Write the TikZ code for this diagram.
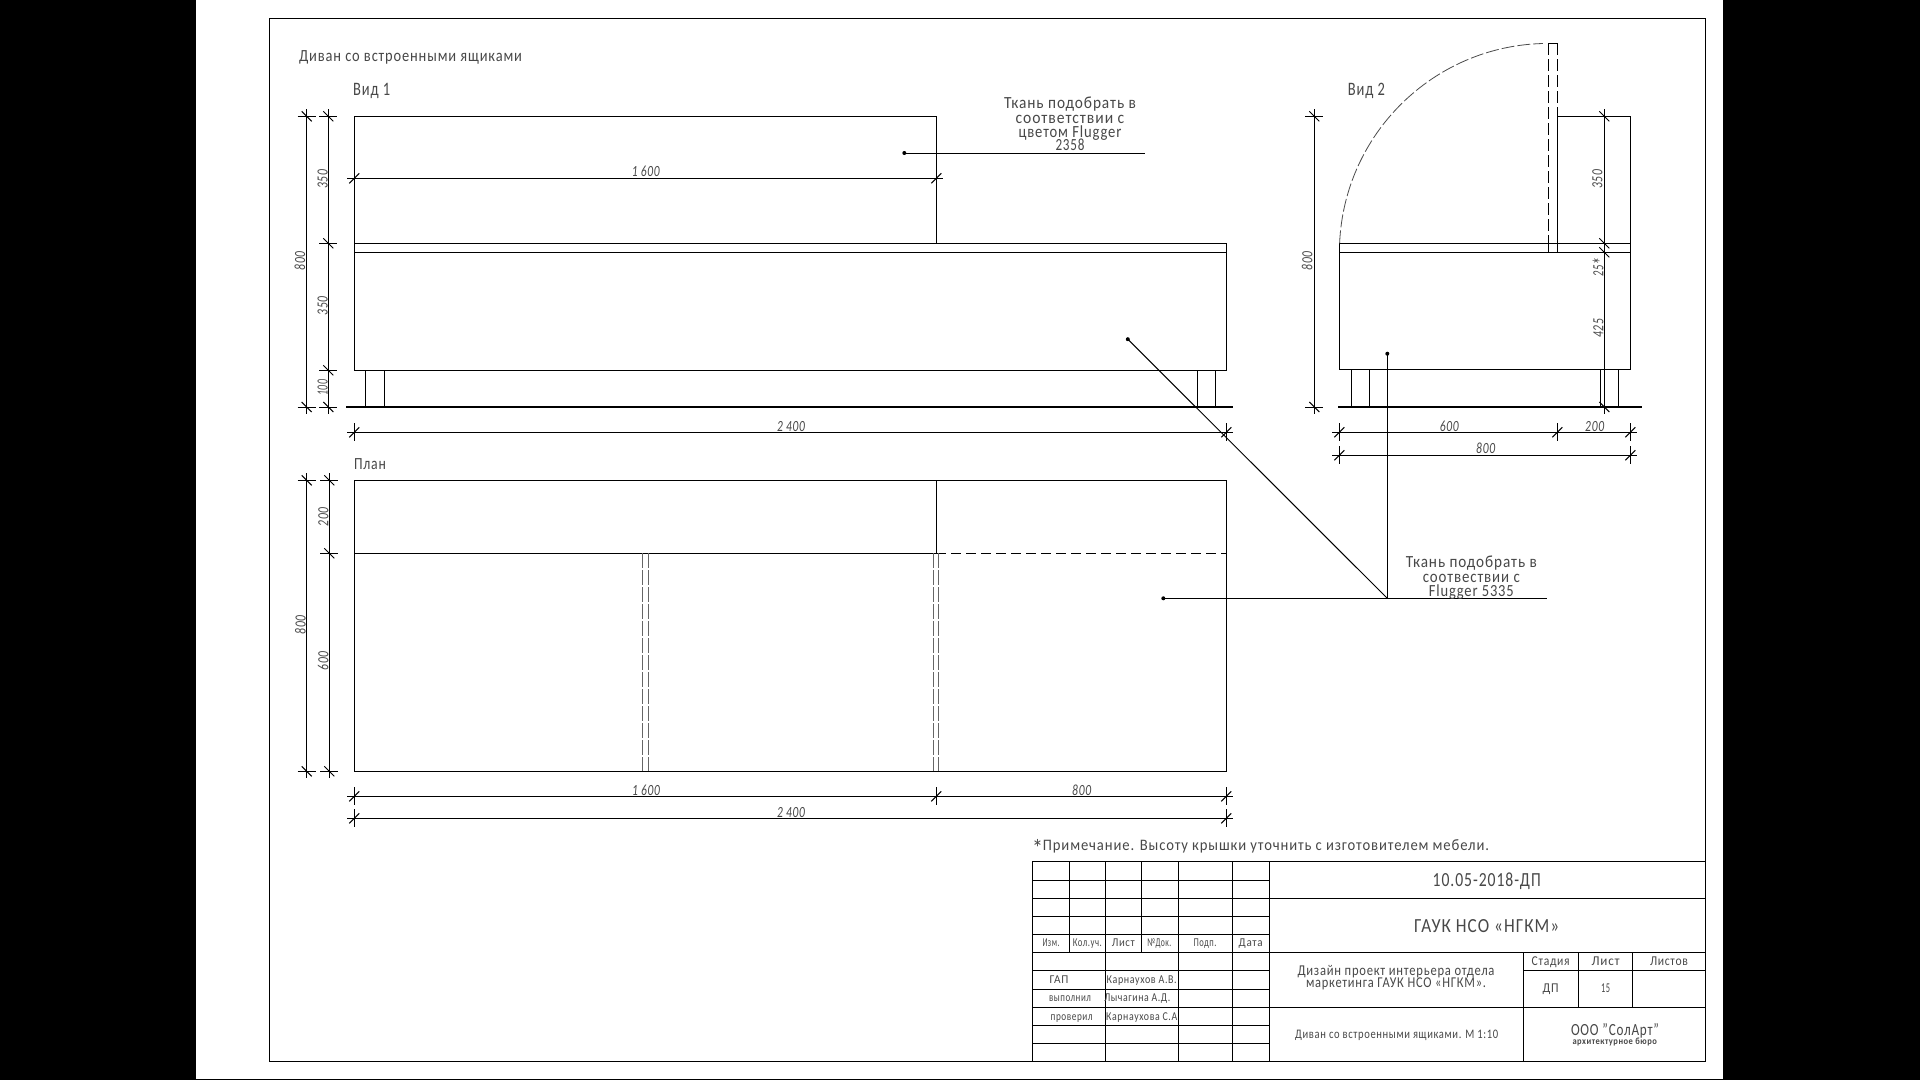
\documentclass[tikz,border=0pt]{standalone}
\usepackage{fontspec}
\usepackage{graphicx}
\usepackage{xfp}
\setmainfont[LetterSpace=6]{Carlito}
\newlength\fitlen
\newcounter{lblno}
\newcommand\fitw[2]{\settowidth\fitlen{#2}\scalebox{\fpeval{#1/\fitlen}}[1]{#2}}
\newcommand\midstar{\raisebox{-.38em}{\scalebox{1.5}{*}}}
% \lbl[opts]{x}{y}{font size}{width}{text}
\newcommand\lbl[6][]{\stepcounter{lblno}\node[lbltext,#1,font=\fontsize{#4pt}{#4pt}\selectfont,text height=\fpeval{0.644*#4}pt] (t\thelblno) at (#2,#3) {\fitw{#5}{#6}};}
\newcommand\dimv[5]{\stepcounter{lblno}\node[lbltext,rotate=90,font=\fontsize{15.5pt}{15.5pt}\selectfont\itshape,text height=10pt] (t\thelblno) at (#1,#2) {\fitw{#3}{#4}};}
\newcommand\dimh[4]{\stepcounter{lblno}\node[lbltext,font=\fontsize{15.5pt}{15.5pt}\selectfont\itshape,text height=10pt] (t\thelblno) at (#1,#2) {\fitw{#3}{#4}};}
% ticks on horizontal / vertical dimension lines
\newcommand\ob[2]{\draw[ln] (#1-5,#2+5) -- (#1+5,#2-5);}
\newcommand\hov[2]{\ob{#1}{#2}\draw[ln] (#1-7,#2) -- (#1+7,#2);}
\newcommand\htick[2]{\hov{#1}{#2}\draw[ln] (#1,#2-9) -- (#1,#2+9);}
\newcommand\vov[2]{\draw[ln] (#1-5,#2-5) -- (#1+5,#2+5);\draw[ln] (#1,#2-7) -- (#1,#2+7);}
\newcommand\vtick[2]{\vov{#1}{#2}\draw[ln] (#1-9,#2) -- (#1+9,#2);}
\definecolor{inkc}{HTML}{484848}
\tikzset{
  ln/.style={line width=1pt,black,line cap=butt},
  thick ground/.style={line width=2pt,black},
  lid dash/.style={line width=1pt,black,dash pattern=on 12pt off 4pt},
  plan dash/.style={line width=1pt,black,dash pattern=on 10pt off 5pt},
  grey dash/.style={line width=.7pt,black!60,dash pattern=on 15pt off 2pt},
  arc dash/.style={line width=.8pt,black!70,dash pattern=on 13pt off 3pt},
  lbltext/.style={inner sep=0pt,outer sep=0pt,text=inkc,text depth=0pt,anchor=center},
}
\begin{document}
\begin{tikzpicture}[x=1pt,y=-1pt]
\useasboundingbox (0,0) rectangle (1920,1080);
\fill[black] (0,0) rectangle (1920,1080);
\fill[white] (196,0) rectangle (1723,1079);
% sheet frame
\draw[ln] (269.5,18) rectangle (1705.7,1061);
% ---- View 1
\draw[ln] (354.3,116.3) rectangle (936.3,243.3);
\draw[ln] (354.3,243.3) rectangle (1226.3,370.3);
\draw[ln] (354.3,252.3) -- (1226.3,252.3);
\draw[ln] (365.3,370.3) -- (365.3,407) (384.3,370.3) -- (384.3,407);
\draw[ln] (1197.3,370.3) -- (1197.3,407) (1215.3,370.3) -- (1215.3,407);
\draw[thick ground] (346,407) -- (1233,407);
\draw[ln] (306.7,116.3) -- (306.7,407);
\vtick{306.7}{116.3}\vtick{306.7}{407}
\draw[ln] (328.3,116.3) -- (328.3,407);
\vtick{328.3}{116.3}\vtick{328.3}{243.3}\vtick{328.3}{370.3}\vtick{328.3}{407}
\draw[ln] (354.3,178.3) -- (936.3,178.3);
\hov{354.3}{178.3}\hov{936.3}{178.3}
\draw[ln] (354.3,432.3) -- (1226.3,432.3);
\htick{354.3}{432.3}\htick{1226.3}{432.3}
% ---- Plan
\draw[ln] (354.3,480.3) rectangle (1226.3,771.3);
\draw[ln] (354.3,553.3) -- (936.3,553.3);
\draw[ln] (936.3,480.3) -- (936.3,553.3);
\draw[plan dash] (936.3,553.3) -- (1226.3,553.3);
\draw[grey dash] (642.3,553.3) -- (642.3,771.3);
\draw[grey dash] (648.3,553.3) -- (648.3,771.3);
\draw[grey dash] (933.3,553.3) -- (933.3,771.3);
\draw[grey dash] (938.3,553.3) -- (938.3,771.3);
\draw[ln] (306.7,480.3) -- (306.7,771.3);
\vtick{306.7}{480.3}\vtick{306.7}{771.3}
\draw[ln] (329.3,480.3) -- (329.3,771.3);
\vtick{329.3}{480.3}\vtick{329.3}{553.3}\vtick{329.3}{771.3}
\draw[ln] (354.3,796.3) -- (1226.3,796.3);
\htick{354.3}{796.3}\htick{936.3}{796.3}\htick{1226.3}{796.3}
\draw[ln] (354.3,818.3) -- (1226.3,818.3);
\htick{354.3}{818.3}\htick{1226.3}{818.3}
% ---- View 2
\draw[ln] (1339.3,243.3) rectangle (1630.3,369.3);
\draw[ln] (1339.3,252.3) -- (1630.3,252.3);
\draw[ln] (1557.3,116.3) rectangle (1630.3,243.3);
\draw[ln] (1557.3,243.3) -- (1557.3,252.3);
\draw[ln] (1548.3,43.3) -- (1557.3,43.3);
\draw[lid dash] (1548.3,43.3) -- (1548.3,242);
\draw[ln] (1548.3,242) -- (1548.3,252.3);
\draw[lid dash] (1557.3,43.3) -- (1557.3,116.3);
\draw[arc dash] (1339.6,243.3) arc[start angle=-177.5,end angle=-91.5,radius=209];
\draw[ln] (1351.3,369.3) -- (1351.3,407) (1369.3,369.3) -- (1369.3,407);
\draw[ln] (1600.3,369.3) -- (1600.3,407) (1618.3,369.3) -- (1618.3,407);
\draw[thick ground] (1338.3,407) -- (1642.3,407);
\draw[ln] (1314.3,116.3) -- (1314.3,407);
\vtick{1314.3}{116.3}\vtick{1314.3}{407}
\draw[ln] (1604.3,116.3) -- (1604.3,407);
\vov{1604.3}{116.3}\vov{1604.3}{243.3}\vov{1604.3}{252.3}\vov{1604.3}{407}
\draw[ln] (1339.3,432.3) -- (1630.3,432.3);
\htick{1339.3}{432.3}\htick{1557.3}{432.3}\htick{1630.3}{432.3}
\draw[ln] (1339.3,455.3) -- (1630.3,455.3);
\htick{1339.3}{455.3}\htick{1630.3}{455.3}
% ---- Leaders
\coordinate (d1) at (904.3,153);
\coordinate (e1) at (1145,153);
\coordinate (d2) at (1127.8,339.2);
\coordinate (d3) at (1387.3,353.7);
\coordinate (d4) at (1163.3,598.3);
\coordinate (j) at (1387.3,598.3);
\coordinate (e2) at (1546.5,598.3);
\draw[ln] (d1) -- (e1);
\draw[ln] (d2) -- (j);
\draw[ln] (d3) -- (j);
\draw[ln] (d4) -- (e2);
\foreach \p in {d1,d2,d3,d4} \fill[black] (\p) circle (2pt);
% ---- Title block
\draw[ln] (1032.3,861.7) -- (1705.7,861.7);
\draw[ln] (1032.3,861.7) -- (1032.3,1061);
\foreach \y in {880.3,898.3,916.7,934.7,952.3,970.3,989,1007.3,1025.7,1043.7}
  \draw[ln] (1032.3,\y) -- (1269.3,\y);
\foreach \x in {1069.3,1141.3} \draw[ln] (\x,861.7) -- (\x,952.3);
\foreach \x in {1105.3,1178.3,1232.3,1269.3} \draw[ln] (\x,861.7) -- (\x,1061);
\draw[ln] (1269.3,898.3) -- (1705.7,898.3);
\draw[ln] (1269.3,952.3) -- (1705.7,952.3);
\draw[ln] (1523.3,970.3) -- (1705.7,970.3);
\draw[ln] (1269.3,1007.3) -- (1705.7,1007.3);
\draw[ln] (1523.3,952.3) -- (1523.3,1061);
\draw[ln] (1578.3,952.3) -- (1578.3,1007.3);
\draw[ln] (1632.3,952.3) -- (1632.3,1007.3);
% ---- Labels
\lbl{410.5}{56}{17}{223}{Диван со встроенными ящиками}
\lbl{371.7}{89}{19}{37}{Вид 1}
\lbl{370}{464}{17}{32}{План}
\lbl{1366.4}{89}{19}{37}{Вид 2}
\lbl{1070}{102.7}{17}{132}{Ткань подобрать в}
\lbl{1070}{117.7}{17}{108.7}{соответствии с}
\lbl{1070}{131.7}{17}{103}{цветом Flugger}
\lbl{1070}{145}{17}{29}{2358}
\lbl{1471.3}{561.7}{17}{131}{Ткань подобрать в}
\lbl{1471.3}{577.3}{17}{97}{соотвествии с}
\lbl{1471.3}{591}{17}{85}{Flugger 5335}
\lbl{1260.5}{845.5}{16}{457}{\midstar Примечание. Высоту крышки уточнить с изготовителем мебели.}
% dimensions
\dimh{645.8}{171.7}{28}{1 600}
\dimv{322.7}{179.3}{19}{350}{}
\dimv{300}{261}{19}{800}{}
\dimv{322.7}{306}{19}{350}{}
\dimv{322.7}{387.7}{16}{100}{}
\dimh{791}{426.7}{28}{2 400}
\dimv{323.3}{516.7}{19}{200}{}
\dimv{300.7}{625}{19}{800}{}
\dimv{323.3}{660.7}{19}{600}{}
\dimh{646}{790.7}{28}{1 600}
\dimh{1081.7}{790.7}{19}{800}
\dimh{791}{812.5}{28}{2 400}
\dimv{1307.3}{261}{19}{800}{}
\dimv{1597.3}{179.3}{19}{350}{}
\dimv{1598.3}{267.3}{19}{25\midstar}{}
\dimv{1598.3}{328.3}{19}{425}{}
\dimh{1449.3}{426.7}{19}{600}
\dimh{1594.7}{426.7}{19}{200}
\dimh{1485.7}{448.7}{19}{800}
% title block texts
\lbl{1051}{942.3}{12}{17}{Изм.}
\lbl{1087.3}{942.3}{12}{29}{Кол.уч.}
\lbl{1123.3}{942.3}{12}{23}{Лист}
\lbl{1159.3}{942.3}{12}{24}{№Док.}
\lbl{1205}{942.3}{12}{23}{Подп.}
\lbl{1250.7}{942.3}{12}{24}{Дата}
\lbl{1059}{979.3}{12}{19}{ГАП}
\lbl{1070}{998}{12}{42}{выполнил}
\lbl{1071.7}{1016.3}{12}{42}{проверил}
\lbl{1141.7}{979.3}{12}{70}{Карнаухов А.В.}
\lbl{1137.3}{998}{12}{66}{Лычагина А.Д.}
\lbl{1141.7}{1016.3}{12}{71}{Карнаухова С.А}
\lbl{1486.7}{880}{20}{108}{10.05-2018-ДП}
\lbl{1486.7}{926}{20}{145}{ГАУК НСО «НГКМ»}
\lbl{1396}{971}{15}{197}{Дизайн проект интерьера отдела}
\lbl{1396}{982.7}{15}{180}{маркетинга ГАУК НСО «НГКМ».}
\lbl{1396.7}{1034}{13}{203}{Диван со встроенными ящиками. М 1:10}
\lbl{1550.7}{961}{13.5}{38}{Стадия}
\lbl{1605.7}{961}{13.5}{28}{Лист}
\lbl{1669}{961}{13.5}{38}{Листов}
\lbl{1550.7}{988.3}{13.5}{16}{ДП}
\lbl{1605.7}{988.3}{13.5}{9}{15}
\lbl{1615}{1030}{17}{88}{ООО "СолАрт"}
\lbl{1615}{1041.7}{9.5}{85}{\textbf{архитектурное бюро}}
\end{tikzpicture}
\end{document}
